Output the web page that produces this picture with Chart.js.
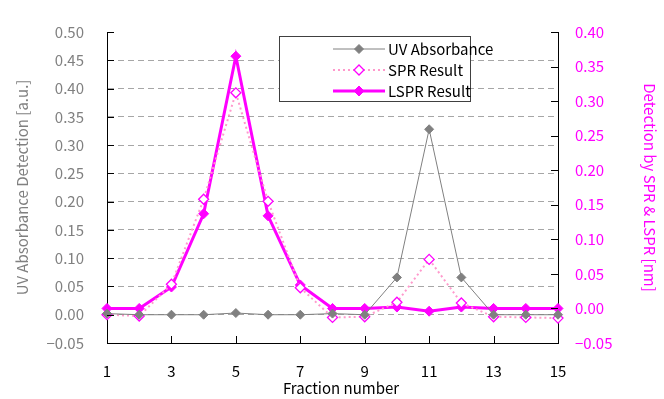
<!DOCTYPE html>
<html>
<head>
<meta charset="utf-8">
<script src="https://cdn.jsdelivr.net/npm/chart.js@4/dist/chart.umd.min.js"></script>
<style>
  html, body { margin: 0; padding: 0; background: #fff; }
  #wrap { width: 664px; height: 399px; }
</style>
</head>
<body>
<div id="wrap"><canvas id="chart"></canvas></div>
<script>
var fractions = [1, 2, 3, 4, 5, 6, 7, 8, 9, 10, 11, 12, 13, 14, 15];
var uvAbsorbance = [0.002, 0.000, 0.000, 0.000, 0.003, 0.000, 0.000, 0.002, 0.000, 0.066, 0.328, 0.066, 0.000, 0.000, 0.000];
var sprResult = [-0.009, -0.011, 0.035, 0.158, 0.312, 0.155, 0.030, -0.013, -0.012, 0.009, 0.071, 0.008, -0.012, -0.013, -0.014];
var lsprResult = [0.000, 0.000, 0.031, 0.137, 0.365, 0.134, 0.034, 0.000, 0.000, 0.002, -0.004, 0.002, 0.000, 0.000, 0.000];

var xTicks = [1, 3, 5, 7, 9, 11, 13, 15];
var uvTicks = [-0.05, 0, 0.05, 0.10, 0.15, 0.20, 0.25, 0.30, 0.35, 0.40, 0.45, 0.50];
var sprTicks = [-0.05, 0, 0.05, 0.10, 0.15, 0.20, 0.25, 0.30, 0.35, 0.40];

var FONT = "'Noto Sans CJK JP', 'Noto Sans', sans-serif";
var GRAY = "#808080";
var MAGENTA = "#ff00ff";
var PINK = "#ff99cc";

function fmt(v) {
    var s = Math.abs(v).toFixed(2);
    return (v < -1e-9 ? "\u2212" : "") + s;
}

function points(values) {
    return fractions.map(function (x, i) { return { x: x, y: values[i] }; });
}

function setTicks(list) {
    return function (scale) {
        scale.ticks = list.map(function (v) { return { value: v }; });
    };
}

// inward tick marks, legend box and x title
var decorations = {
    id: "decorations",
    afterDraw: function (chart) {
        var ctx = chart.ctx;
        var area = chart.chartArea;
        var sx = chart.scales.x, sl = chart.scales.y, sr = chart.scales.y2;
        var len = 7;

        ctx.save();
        ctx.strokeStyle = "#000";
        ctx.lineWidth = 1;
        ctx.beginPath();
        uvTicks.forEach(function (v) {
            var y = Math.round(sl.getPixelForValue(v)) + 0.5;
            ctx.moveTo(area.left, y);
            ctx.lineTo(area.left + len, y);
        });
        sprTicks.forEach(function (v) {
            var y = Math.round(sr.getPixelForValue(v)) + 0.5;
            ctx.moveTo(area.right, y);
            ctx.lineTo(area.right - len, y);
        });
        xTicks.forEach(function (v) {
            var x = Math.round(sx.getPixelForValue(v)) + 0.5;
            ctx.moveTo(x, area.bottom);
            ctx.lineTo(x, area.bottom - len);
        });
        ctx.stroke();

        // legend
        var bx = 279.5, by = 36.5, bw = 191, bh = 65;
        ctx.fillStyle = "#fff";
        ctx.fillRect(bx, by, bw, bh);
        ctx.strokeStyle = "#404040";
        ctx.strokeRect(bx, by, bw, bh);

        var rows = [49, 70, 91];
        chart.data.datasets.forEach(function (ds, i) {
            var y = rows[i];
            var r = ds.pointRadius;
            ctx.save();
            ctx.strokeStyle = ds.borderColor;
            ctx.lineWidth = ds.borderWidth;
            ctx.setLineDash(ds.borderDash || []);
            ctx.beginPath();
            ctx.moveTo(333, y);
            ctx.lineTo(385, y);
            ctx.stroke();
            ctx.restore();

            ctx.fillStyle = ds.pointBackgroundColor;
            ctx.strokeStyle = ds.pointBorderColor;
            ctx.lineWidth = ds.pointBorderWidth;
            ctx.beginPath();
            ctx.moveTo(359, y - r);
            ctx.lineTo(359 + r, y);
            ctx.lineTo(359, y + r);
            ctx.lineTo(359 - r, y);
            ctx.closePath();
            ctx.fill();
            ctx.stroke();

            ctx.fillStyle = "#000";
            ctx.font = "15px " + FONT;
            ctx.textBaseline = "middle";
            ctx.textAlign = "left";
            ctx.fillText(ds.label, 388, y);
        });

        ctx.fillStyle = "#000";
        ctx.font = "15px " + FONT;
        ctx.textAlign = "center";
        ctx.textBaseline = "middle";
        ctx.fillText("Fraction number", 341, 388);
        ctx.restore();
    }
};

new Chart(document.getElementById("chart"), {
    type: "line",
    data: {
        datasets: [{
            label: "UV Absorbance",
            data: points(uvAbsorbance),
            yAxisID: "y",
            borderColor: GRAY,
            borderWidth: 1,
            pointStyle: "rectRot",
            pointRadius: 4.5,
            pointBackgroundColor: GRAY,
            pointBorderColor: GRAY,
            pointBorderWidth: 1,
            clip: false
        }, {
            label: "SPR Result",
            data: points(sprResult),
            yAxisID: "y2",
            borderColor: PINK,
            borderWidth: 2,
            borderDash: [2, 3],
            pointStyle: "rectRot",
            pointRadius: 5,
            pointBackgroundColor: "#fff",
            pointBorderColor: MAGENTA,
            pointBorderWidth: 1.3,
            clip: false
        }, {
            label: "LSPR Result",
            data: points(lsprResult),
            yAxisID: "y2",
            borderColor: MAGENTA,
            borderWidth: 3,
            pointStyle: "rectRot",
            pointRadius: 5,
            pointBackgroundColor: MAGENTA,
            pointBorderColor: MAGENTA,
            pointBorderWidth: 1,
            clip: false
        }]
    },
    options: {
        responsive: true,
        maintainAspectRatio: false,
        animation: false,
        devicePixelRatio: 1,
        layout: { padding: { top: 17, left: 0, right: 0, bottom: 0 } },
        plugins: {
            legend: { display: false },
            tooltip: { enabled: false }
        },
        elements: { line: { tension: 0 } },
        scales: {
            x: {
                type: "linear",
                min: 1,
                max: 15,
                afterBuildTicks: setTicks(xTicks),
                afterFit: function (s) { s.height = 56; },
                grid: { display: false, drawTicks: false },
                border: { color: "#000", width: 1 },
                ticks: {
                    color: "#000",
                    padding: 19,
                    font: { family: FONT, size: 15 },
                    maxRotation: 0
                }
            },
            y: {
                position: "left",
                min: -0.05,
                max: 0.5,
                afterBuildTicks: setTicks(uvTicks),
                afterFit: function (s) { s.width = 107; },
                grid: {
                    drawTicks: false,
                    color: function (c) {
                        var v = c.tick ? c.tick.value : 0;
                        return (v > -0.01 && v < 0.46) ? "#a6a6a6" : "rgba(0,0,0,0)";
                    }
                },
                border: { color: "#000", width: 1, dash: [6, 4] },
                ticks: {
                    color: GRAY,
                    padding: 23,
                    font: { family: FONT, size: 15 },
                    callback: fmt
                },
                title: {
                    display: true,
                    text: "UV Absorbance Detection [a.u.]",
                    color: GRAY,
                    padding: { top: 13, bottom: 0 },
                    font: { family: FONT, size: 15 }
                }
            },
            y2: {
                position: "right",
                min: -0.05,
                max: 0.4,
                afterBuildTicks: setTicks(sprTicks),
                afterFit: function (s) { s.width = 106; },
                grid: { display: false, drawTicks: false },
                border: { color: "#000", width: 1 },
                ticks: {
                    color: MAGENTA,
                    padding: 17,
                    font: { family: FONT, size: 15 },
                    callback: fmt
                },
                title: {
                    display: true,
                    text: "Detection by SPR & LSPR [nm]",
                    color: MAGENTA,
                    padding: { top: 5, bottom: 0 },
                    font: { family: FONT, size: 15 }
                }
            }
        }
    },
    plugins: [decorations]
});
</script>
</body>
</html>
